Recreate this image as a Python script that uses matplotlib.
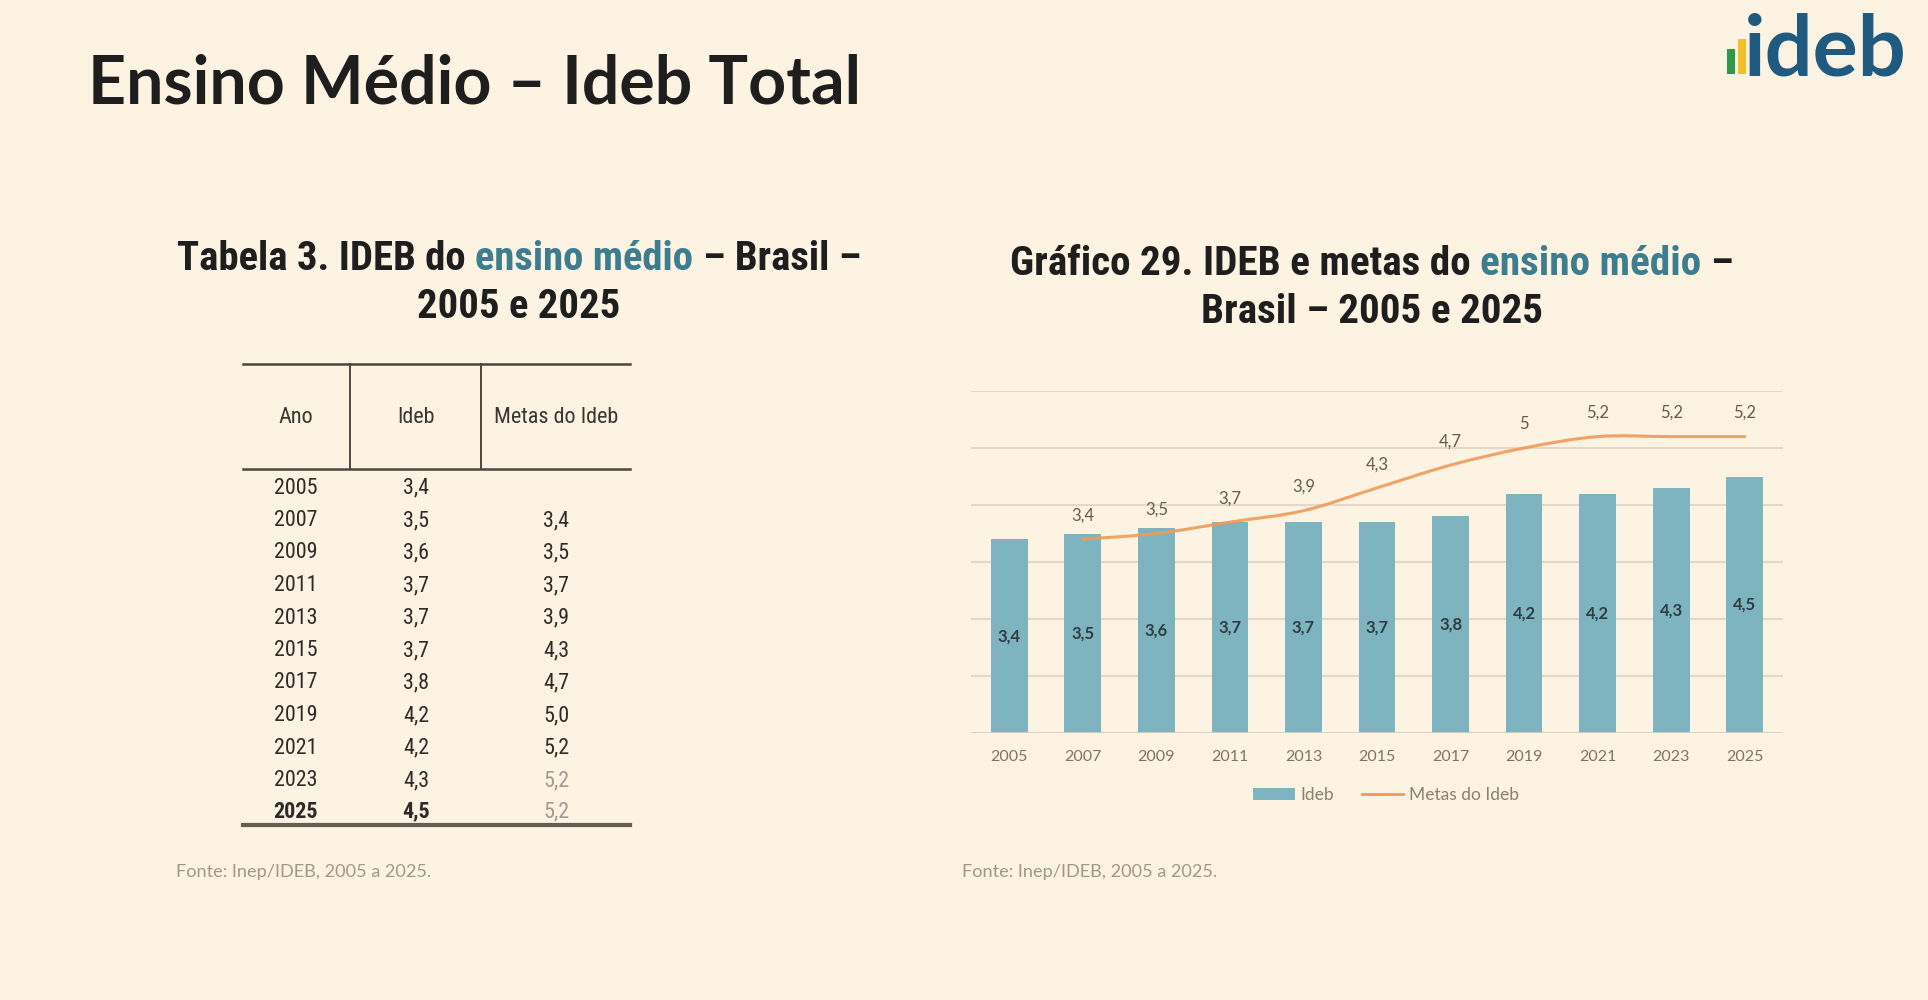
import matplotlib
matplotlib.use('Agg')
import matplotlib.pyplot as plt
from matplotlib import font_manager as fm
from matplotlib.path import Path
from matplotlib.patches import PathPatch, Rectangle, Patch
from matplotlib.lines import Line2D

# ---------------- data ----------------
years = ['2005', '2007', '2009', '2011', '2013', '2015', '2017', '2019', '2021', '2023', '2025']
ideb = [3.4, 3.5, 3.6, 3.7, 3.7, 3.7, 3.8, 4.2, 4.2, 4.3, 4.5]
metas = [None, 3.4, 3.5, 3.7, 3.9, 4.3, 4.7, 5.0, 5.2, 5.2, 5.2]
table_header = ['Ano', 'Ideb', 'Metas do Ideb']
legend_labels = ['Ideb', 'Metas do Ideb']
main_title = 'Ensino Médio – Ideb Total'
table_title = [[('Tabela 3. IDEB do', 'd'), ('ensino médio', 't'), ('– Brasil –', 'd')],
               [('2005 e 2025', 'd')]]
chart_title = [[('Gráfico 29. IDEB e metas do', 'd'), ('ensino médio', 't'), ('–', 'd')],
               [('Brasil – 2005 e 2025', 'd')]]
source = 'Fonte: Inep/IDEB, 2005 a 2025.'
logo_text = 'ideb'

# ---------------- fonts ----------------
names = {f.name for f in fm.fontManager.ttflist}
cond_dejavu = any(f.name == 'DejaVu Sans' and 'ondensed' in f.fname for f in fm.fontManager.ttflist)
NARROW_STRETCH = 'normal'
NARROW = None
for cand in ['Liberation Sans Narrow', 'Roboto Condensed', 'Open Sans Condensed',
             'Noto Sans Condensed', 'DejaVu Sans Condensed', 'Arial Narrow']:
    if cand in names:
        NARROW = [cand, 'DejaVu Sans']
        break
if NARROW is None:
    if cond_dejavu:
        NARROW = ['DejaVu Sans']
        NARROW_STRETCH = 'condensed'
    else:
        NARROW = ['Roboto', 'Lato', 'DejaVu Sans']
CAL = ['Lato', 'DejaVu Sans']

# ---------------- style ----------------
W, H = 1928, 1000
BG = '#FDF3E3'
BAR = '#7DB4C0'
LINE = '#F09A55'
DARK = '#1E1E1E'
TEAL = '#3C7E90'
GRID = '#E2D9CA'

fig = plt.figure(figsize=(W / 100, H / 100), dpi=100, facecolor=BG)
renderer = fig.canvas.get_renderer()


def fx(x):
    return x / W


def fy(y):
    return 1 - y / H


def width_of(t):
    return t.get_window_extent(renderer).width


def fit_text(x, y, s, target_w, size0=20, **kw):
    t = fig.text(fx(x), fy(y), s, fontsize=size0, **kw)
    w = width_of(t)
    t.set_fontsize(size0 * target_w / w)
    return t


def rich_lines(cx, ys, lines, target_w, weight='bold'):
    colors = {'d': DARK, 't': TEAL}
    size0 = 30
    kw = dict(family=NARROW, weight=weight, stretch=NARROW_STRETCH)
    probe = fig.text(0, 0, 'x x', fontsize=size0, **kw)
    probe2 = fig.text(0, 0, 'xx', fontsize=size0, **kw)
    sp0 = width_of(probe) - width_of(probe2)
    probe.remove(); probe2.remove()
    allrows = []
    for y, pieces in zip(ys, lines):
        row = []
        for s, c in pieces:
            t = fig.text(0, fy(y), s, fontsize=size0, color=colors[c], ha='left',
                         va='baseline', **kw)
            row.append(t)
        allrows.append(row)
    w1 = sum(width_of(t) for t in allrows[0]) + sp0 * (len(allrows[0]) - 1)
    scale = target_w / w1
    size = size0 * scale
    sp = sp0 * scale
    for row in allrows:
        for t in row:
            t.set_fontsize(size)
        ws = [width_of(t) for t in row]
        total = sum(ws) + sp * (len(row) - 1)
        x = cx - total / 2
        for t, w in zip(row, ws):
            t.set_x(fx(x))
            x += w + sp


# ---------------- main title ----------------
fit_text(88, 104, main_title, 773, family=CAL, weight='bold',
         color=DARK, ha='left', va='baseline')

# ---------------- logo ----------------
fig.add_artist(Rectangle((fx(1727), fy(74)), 8 / W, 25 / H, transform=fig.transFigure,
                         facecolor='#2E9A47', edgecolor='none'))
fig.add_artist(Rectangle((fx(1738), fy(74)), 8 / W, 35 / H, transform=fig.transFigure,
                         facecolor='#F2BF2B', edgecolor='none'))
fit_text(1744, 75, logo_text, 164, family=CAL, weight='bold',
         color='#1F5B80', ha='left', va='baseline')

# ---------------- subtitles ----------------
rich_lines(519, [270, 318], table_title, 683)
rich_lines(1372, [275, 323], chart_title, 723)

# ---------------- table ----------------
TL, TR = 243, 630
RULE = '#4E473F'
fig.add_artist(Line2D([fx(TL), fx(TR)], [fy(364), fy(364)], transform=fig.transFigure,
                      color=RULE, lw=1.8))
fig.add_artist(Line2D([fx(TL), fx(TR)], [fy(468.5), fy(468.5)], transform=fig.transFigure,
                      color=RULE, lw=1.8))
for vx in (350, 481):
    fig.add_artist(Line2D([fx(vx), fx(vx)], [fy(364), fy(468.5)], transform=fig.transFigure,
                          color=RULE, lw=1.4))
fig.add_artist(Line2D([fx(TL), fx(TR)], [fy(825), fy(825)], transform=fig.transFigure,
                      color='#655D54', lw=3.0))

tkw = dict(family=NARROW, stretch=NARROW_STRETCH, ha='center', va='center')
col_x = [296, 416, 556]
hdr = []
for cx, lab in zip(col_x, table_header):
    hdr.append(fig.text(fx(cx), fy(418), lab, fontsize=16, color='#3A3632', **tkw))
# keep the widest header inside its 125px-wide column
hw = width_of(hdr[2])
tsize = min(16, 16 * 125 / hw)
for t in hdr:
    t.set_fontsize(tsize)

row_y = [488 + 32.5 * k for k in range(len(years) - 1)] + [811.5]
n = len(years)
for i, (yr, v, m) in enumerate(zip(years, ideb, metas)):
    last = i == n - 1
    wt = 'bold' if last else 'normal'
    fig.text(fx(col_x[0]), fy(row_y[i]), yr, fontsize=tsize, color='#2E2B28', weight=wt, **tkw)
    fig.text(fx(col_x[1]), fy(row_y[i]), f'{v:.1f}'.replace('.', ','), fontsize=tsize,
             color='#2E2B28', weight=wt, **tkw)
    if m is not None:
        mc = '#A39B92' if i >= n - 2 else '#2E2B28'
        fig.text(fx(col_x[2]), fy(row_y[i]), f'{m:.1f}'.replace('.', ','), fontsize=tsize,
                 color=mc, **tkw)

# ---------------- sources ----------------
for sx in (176, 962):
    fit_text(sx, 872, source, 255, family=CAL, color='#A1978B', ha='left', va='center')

# ---------------- chart ----------------
ax = fig.add_axes([fx(971), fy(733), (1783 - 971) / W, (733 - 391) / H])
ax.set_facecolor('none')
xs = list(range(len(years)))
ax.bar(xs, ideb, width=0.5, color=BAR, zorder=2)
ax.set_ylim(0, 6)
ax.set_xlim(-0.52, len(years) - 0.48)
for g in range(1, 7):
    ax.axhline(g, color=GRID, lw=1.5, zorder=1)
ax.axhline(0, color='#D8CDBC', lw=2, zorder=3)
for s in ax.spines.values():
    s.set_visible(False)
ax.set_yticks([])
ax.set_xticks(xs)
ax.set_xticklabels(years, family=CAL, fontsize=11.5, color='#7E7469')
ax.tick_params(axis='x', length=0, pad=12)

for i, v in enumerate(ideb):
    ax.text(i, v / 2, f'{v:.1f}'.replace('.', ','), ha='center', va='center',
            family=CAL, fontsize=12, weight='bold', color='#2F3C40', zorder=4)

# smoothed metas line (Catmull-Rom rendered as cubic Bezier path)
pts = [(i, m) for i, m in enumerate(metas) if m is not None]
verts = [pts[0]]
codes = [Path.MOVETO]
for k in range(len(pts) - 1):
    p0 = pts[k - 1] if k > 0 else pts[k]
    p1 = pts[k]
    p2 = pts[k + 1]
    p3 = pts[k + 2] if k + 2 < len(pts) else pts[k + 1]
    c1 = (p1[0] + (p2[0] - p0[0]) / 6, p1[1] + (p2[1] - p0[1]) / 6)
    c2 = (p2[0] - (p3[0] - p1[0]) / 6, p2[1] - (p3[1] - p1[1]) / 6)
    verts += [c1, c2, p2]
    codes += [Path.CURVE4] * 3
ax.add_patch(PathPatch(Path(verts, codes), facecolor='none', edgecolor=LINE, lw=2.2,
                       alpha=0.9, zorder=3, capstyle='round', joinstyle='round'))
for i, m in pts:
    ax.annotate(f'{m:g}'.replace('.', ','), (i, m), xytext=(0, 17), textcoords='offset points',
                ha='center', va='center', family=CAL, fontsize=12, color='#655B52')

# legend
handles = [Patch(facecolor=BAR, edgecolor='none'), Line2D([], [], color=LINE, lw=2)]
fig.legend(handles, legend_labels, loc='center', bbox_to_anchor=(fx(1386), fy(795)),
           ncol=2, frameon=False, prop={'family': CAL, 'size': 12.5}, labelcolor='#8A7F74',
           handlelength=2.4, handleheight=0.65, handletextpad=0.3, columnspacing=1.6)

fig.savefig('out.png', dpi=100, facecolor=BG)
